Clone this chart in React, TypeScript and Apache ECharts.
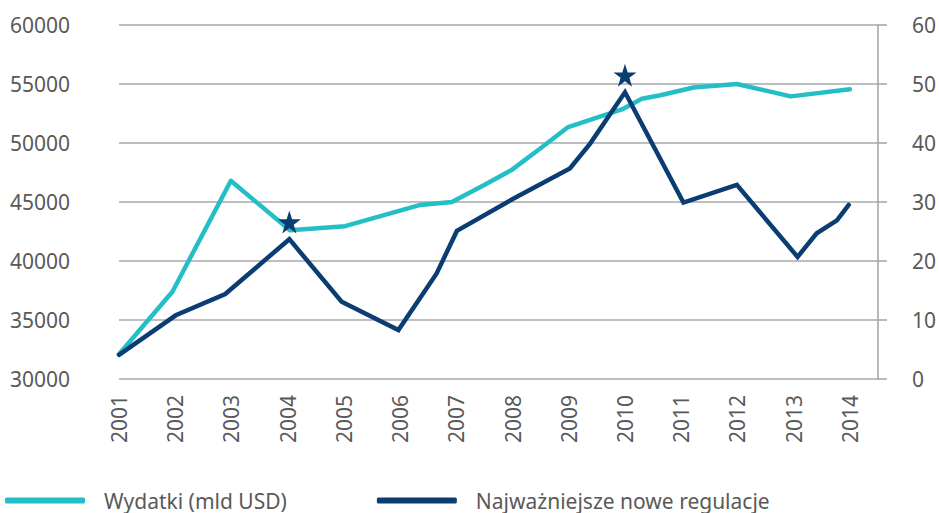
import React, { useEffect, useRef } from "react";
import * as echarts from "echarts";

const yearTicks = [2001, 2002, 2003, 2004, 2005, 2006, 2007, 2008, 2009, 2010, 2011, 2012, 2013, 2014];

const spendingYears = [2001.0, 2001.95, 2002.99, 2004.04, 2005.02, 2006.36, 2006.92, 2007.48, 2007.98, 2008.51, 2008.99, 2009.97, 2010.3, 2010.63, 2011.22, 2011.99, 2012.95, 2014.0];
const spendingValues = [32100, 37400, 46800, 42600, 42950, 44750, 45000, 46400, 47700, 49600, 51350, 52900, 53750, 54050, 54700, 55000, 53950, 54550];

const regYears = [2001.0, 2002.01, 2002.89, 2004.03, 2004.96, 2005.97, 2006.65, 2007.01, 2008.02, 2009.02, 2009.38, 2010.0, 2011.04, 2011.99, 2013.07, 2013.41, 2013.77, 2013.98];
const regValues = [4.1, 10.8, 14.4, 23.7, 13.1, 8.3, 17.9, 25.1, 30.6, 35.7, 39.9, 48.6, 29.9, 32.9, 20.7, 24.7, 26.9, 29.5];

const starYears = [2004.03, 2010.0];
const starValues = [26.6, 51.5];

const seriesNames = ["Wydatki (mld USD)", "Najważniejsze nowe regulacje"];

const TEAL = "#24BEC7";
const NAVY = "#0B3D73";
const GRID = "#A8A8AC";
const TXT = "#595959";
const FONT = "Noto Sans";

const STAR = "path://M50,0 L61.2,34.5 L97.6,34.5 L68.2,55.9 L79.4,90.5 L50,69.1 L20.6,90.5 L31.8,55.9 L2.4,34.5 L38.8,34.5 Z";

export default function App() {
  const ref = useRef<HTMLDivElement>(null);
  useEffect(() => {
    if (!ref.current) return;
    const chart = echarts.init(ref.current, undefined, { renderer: "svg" });
    chart.setOption({
      animation: false,
      backgroundColor: "#ffffff",
      textStyle: { fontFamily: FONT },
      grid: { left: 119, right: 60, top: 25, bottom: 134 },
      legend: {
        data: seriesNames,
        left: 5,
        top: 490,
        padding: 0,
        itemWidth: 80,
        itemHeight: 6,
        itemGap: 90,
        icon: "roundRect",
        textStyle: { fontFamily: FONT, fontSize: 21, color: TXT, padding: [0, 0, 0, 14] },
      },
      xAxis: {
        type: "value",
        min: 2001,
        max: 2014.5,
        interval: 1,
        axisLine: { show: false },
        axisTick: { show: false },
        splitLine: { show: false },
        axisLabel: {
          rotate: 90,
          margin: 16,
          fontSize: 21,
          color: TXT,
          fontFamily: FONT,
          showMaxLabel: false,
          formatter: (v: number) => (yearTicks.indexOf(v) >= 0 ? String(v) : ""),
        },
      },
      yAxis: [
        {
          type: "value",
          min: 30000,
          max: 60000,
          interval: 5000,
          axisLine: { show: false },
          axisTick: { show: false },
          splitLine: { show: true, lineStyle: { color: GRID, width: 1.6 } },
          axisLabel: { fontSize: 21, color: TXT, fontFamily: FONT, margin: 49, formatter: (v: number) => String(v) },
        },
        {
          type: "value",
          min: 0,
          max: 60,
          interval: 10,
          position: "right",
          axisLine: { show: true, lineStyle: { color: GRID, width: 1.6 } },
          axisTick: { show: true, length: 9, lineStyle: { color: GRID, width: 1.6 } },
          splitLine: { show: false },
          axisLabel: { fontSize: 21, color: TXT, fontFamily: FONT, margin: 34 },
        },
      ],
      series: [
        {
          name: seriesNames[0],
          type: "line",
          yAxisIndex: 0,
          data: spendingYears.map((x, i) => [x, spendingValues[i]]),
          showSymbol: false,
          symbol: "none",
          lineStyle: { color: TEAL, width: 4.5, cap: "round", join: "round" },
          itemStyle: { color: TEAL },
        },
        {
          name: seriesNames[1],
          type: "line",
          yAxisIndex: 1,
          data: regYears.map((x, i) => [x, regValues[i]]),
          showSymbol: false,
          symbol: "none",
          lineStyle: { color: NAVY, width: 4.5, cap: "round", join: "miter" },
          itemStyle: { color: NAVY },
        },
        {
          name: "stars",
          type: "scatter",
          yAxisIndex: 1,
          data: starYears.map((x, i) => [x, starValues[i]]),
          symbol: STAR,
          symbolSize: 23,
          itemStyle: { color: NAVY, opacity: 1 },
          z: 5,
        },
      ],
    });
    return () => chart.dispose();
  }, []);
  return <div ref={ref} style={{ width: 939, height: 513, position: "absolute", left: 0, top: 0 }} />;
}
